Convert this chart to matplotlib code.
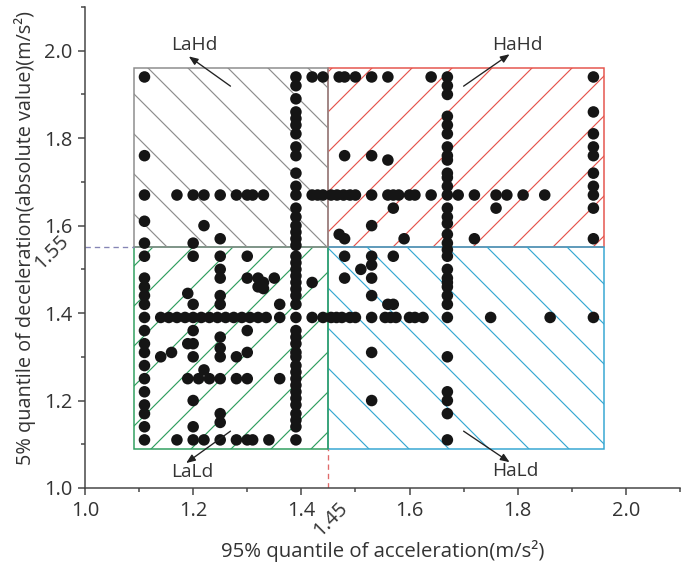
import numpy as np
import matplotlib.pyplot as plt
from matplotlib.patches import Rectangle
from matplotlib.ticker import MultipleLocator

plt.rcParams['font.family'] = ['Open Sans', 'DejaVu Sans']
plt.rcParams['hatch.linewidth'] = 0.7

# thresholds and box extent (m/s^2)
acc_split = 1.45
dec_split = 1.55
box_lo = 1.09
box_hi = 1.96

# points lying on vertical lines (acc fixed) -> deceleration values
col_111 = [1.94, 1.76, 1.67, 1.61, 1.56, 1.53, 1.48, 1.46, 1.44, 1.42, 1.39, 1.36, 1.33,
           1.31, 1.28, 1.25, 1.22, 1.19, 1.17, 1.14, 1.11]
col_139 = [1.94, 1.92, 1.89, 1.86, 1.845, 1.83, 1.81, 1.78, 1.76, 1.72, 1.69, 1.67, 1.64,
           1.62, 1.60, 1.585, 1.57, 1.555, 1.53, 1.515, 1.50, 1.485, 1.47, 1.455, 1.44,
           1.42, 1.39, 1.36, 1.345, 1.33, 1.31, 1.30, 1.28, 1.265, 1.25, 1.235, 1.22,
           1.205, 1.19, 1.17, 1.155, 1.14, 1.11]
col_167 = [1.94, 1.92, 1.90, 1.85, 1.83, 1.81, 1.78, 1.76, 1.75, 1.72, 1.71, 1.69, 1.67,
           1.64, 1.62, 1.605, 1.58, 1.56, 1.545, 1.53, 1.50, 1.48, 1.47, 1.46, 1.44, 1.42,
           1.39, 1.30, 1.22, 1.20, 1.17, 1.11]
col_194 = [1.94, 1.86, 1.81, 1.78, 1.76, 1.72, 1.69, 1.67, 1.64, 1.57, 1.39]

# points lying on horizontal lines (dec fixed) -> acceleration values
row_194 = [1.42, 1.44, 1.47, 1.48, 1.50, 1.53, 1.56, 1.64]
row_167 = [1.17, 1.20, 1.22, 1.25, 1.28, 1.30, 1.31, 1.33, 1.42, 1.43, 1.44, 1.455, 1.466,
           1.478, 1.49, 1.50, 1.53, 1.56, 1.57, 1.58, 1.60, 1.61, 1.64, 1.69, 1.72, 1.76,
           1.78, 1.81, 1.85]
row_139 = [1.14, 1.155, 1.17, 1.185, 1.20, 1.215, 1.23, 1.245, 1.26, 1.275, 1.29, 1.305,
           1.32, 1.335, 1.36, 1.42, 1.44, 1.455, 1.465, 1.475, 1.49, 1.50, 1.53, 1.555,
           1.565, 1.575, 1.60, 1.61, 1.625, 1.75, 1.86]
row_111 = [1.17, 1.20, 1.22, 1.25, 1.28, 1.30, 1.31, 1.34]

# scattered points
other_acc = [1.22, 1.20, 1.25,
             1.48, 1.53, 1.56, 1.57, 1.53, 1.47, 1.48, 1.59, 1.72, 1.76,
             1.20, 1.25, 1.30, 1.25, 1.25, 1.25, 1.25, 1.19, 1.20, 1.20, 1.19, 1.20,
             1.14, 1.16, 1.20, 1.25, 1.25, 1.25, 1.22, 1.19, 1.21, 1.23, 1.25, 1.20,
             1.25, 1.25, 1.20, 1.28, 1.28, 1.30, 1.36, 1.30, 1.30, 1.30, 1.32, 1.33,
             1.35, 1.32, 1.33, 1.36, 1.42,
             1.48, 1.53, 1.53, 1.57, 1.51, 1.48, 1.53, 1.53, 1.56, 1.57, 1.53, 1.53]
other_dec = [1.60, 1.56, 1.57,
             1.76, 1.76, 1.75, 1.64, 1.60, 1.58, 1.57, 1.57, 1.57, 1.64,
             1.53, 1.53, 1.53, 1.50, 1.48, 1.44, 1.42, 1.445, 1.42, 1.36, 1.33, 1.33,
             1.30, 1.31, 1.30, 1.345, 1.32, 1.30, 1.27, 1.25, 1.25, 1.25, 1.25, 1.20,
             1.17, 1.15, 1.14, 1.30, 1.25, 1.25, 1.25, 1.36, 1.31, 1.48, 1.48, 1.47,
             1.48, 1.46, 1.456, 1.42, 1.47,
             1.53, 1.53, 1.51, 1.53, 1.50, 1.48, 1.48, 1.44, 1.42, 1.42, 1.31, 1.20]

acc = ([1.11] * len(col_111) + [1.39] * len(col_139) + [1.67] * len(col_167)
       + [1.94] * len(col_194) + row_194 + row_167 + row_139 + row_111 + other_acc)
dec = (col_111 + col_139 + col_167 + col_194 + [1.94] * len(row_194)
       + [1.67] * len(row_167) + [1.39] * len(row_139) + [1.11] * len(row_111) + other_dec)

fig = plt.figure(figsize=(691 / 120, 565 / 120), dpi=120)
ax = fig.add_axes([0.123, 0.1363, 0.861, 0.8513])

# quadrant boxes (drawn so the shared edges get the right colour)
boxes = [
    (acc_split, dec_split, box_hi, box_hi, '#e5544c', '//'),   # HaHd
    (acc_split, box_lo, box_hi, dec_split, '#35a7d2', '\\\\'),  # HaLd
    (box_lo, box_lo, acc_split, dec_split, '#2f9e5e', '//'),    # LaLd
    (box_lo, dec_split, acc_split, box_hi, '#8c8c8c', '\\\\'),  # LaHd
]
for x0, y0, x1, y1, c, h in boxes:
    ax.add_patch(Rectangle((x0, y0), x1 - x0, y1 - y0, facecolor='none',
                           edgecolor=c, hatch=h[0], lw=0.9, zorder=1))

ax.scatter(acc, dec, s=48, c='#151515', edgecolors='none', zorder=3)

# threshold guide lines
ax.plot([1.0, box_lo], [dec_split, dec_split], ls=(0, (4, 3)), color='#8585b5', lw=0.8)
ax.plot([acc_split, acc_split], [1.0, box_lo], ls=(0, (4, 3)), color='#e06a6a', lw=0.8)
ax.text(0.939, 1.539, '1.55', rotation=45, ha='center', va='center', fontsize=12,
        color='#333333', clip_on=False)
ax.text(1.455, 0.927, '1.45', rotation=45, ha='center', va='center', fontsize=12,
        color='#333333', clip_on=False)

# region labels with arrows
labels = [
    ('LaHd', (1.202, 2.012), (1.269, 1.919), (1.192, 1.987)),
    ('HaHd', (1.800, 2.012), (1.700, 1.919), (1.785, 1.992)),
    ('LaLd', (1.198, 1.037), (1.269, 1.130), (1.187, 1.057)),
    ('HaLd', (1.796, 1.039), (1.700, 1.130), (1.785, 1.059)),
]
for name, tpos, tail, head in labels:
    ax.text(tpos[0], tpos[1], name, ha='center', va='center', fontsize=11.5, color='#333333')
    ax.annotate('', xy=head, xytext=tail,
                arrowprops=dict(arrowstyle='-|>,head_length=0.45,head_width=0.18',
                                color='#222222', lw=0.8, shrinkA=0, shrinkB=0))

ax.set_xlim(1.0, 2.1)
ax.set_ylim(1.0, 2.1)
ax.xaxis.set_major_locator(MultipleLocator(0.2))
ax.xaxis.set_minor_locator(MultipleLocator(0.1))
ax.yaxis.set_major_locator(MultipleLocator(0.2))
ax.yaxis.set_minor_locator(MultipleLocator(0.1))
ax.tick_params(which='major', length=4.2, width=0.9, colors='#444444', labelsize=12,
               labelcolor='#333333')
ax.tick_params(which='minor', length=2.4, width=0.9, colors='#444444')
for side in ['top', 'right']:
    ax.spines[side].set_visible(False)
for side in ['left', 'bottom']:
    ax.spines[side].set_linewidth(0.9)
    ax.spines[side].set_color('#444444')

ax.set_xlabel('95% quantile of acceleration(m/s²)', fontsize=12.2, color='#333333')
ax.set_ylabel('5% quantile of deceleration(absolute value)(m/s²)', fontsize=11.9,
              color='#333333')
ax.xaxis.set_label_coords(0.5, -0.108)
ax.yaxis.set_label_coords(-0.082, 0.52)

fig.savefig('out.png', dpi=120)
